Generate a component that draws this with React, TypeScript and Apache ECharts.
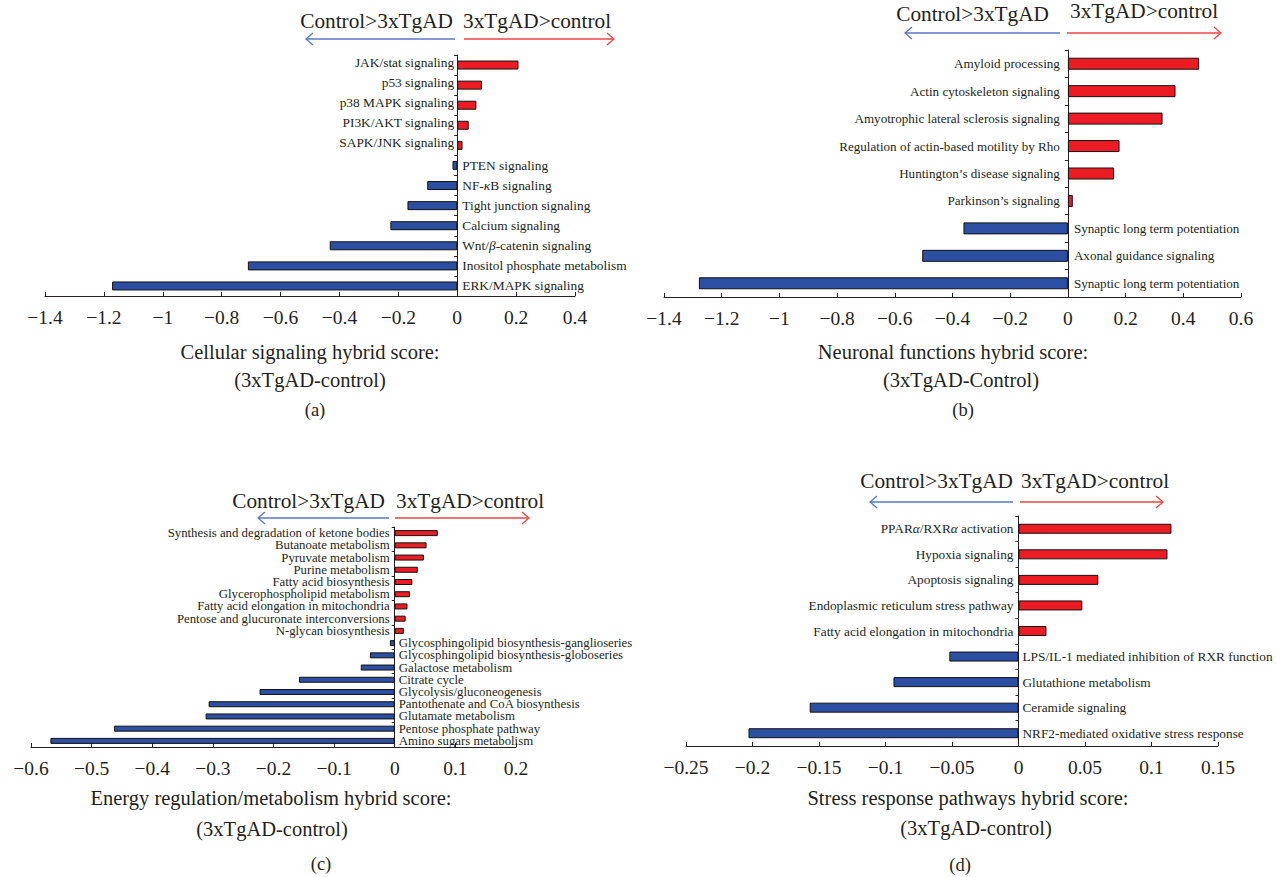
import React, { useEffect, useRef } from "react";
import * as echarts from "echarts";

const FONT = '"Liberation Serif", "DejaVu Serif", "Times New Roman", serif';
const INK = "#231f20";
const RED = "#ed1c24";
const BLUE = "#2d4fa3";
const ARROW_BLUE = "#5877c2";
const ARROW_RED = "#ef4545";

// (a) Cellular signaling
const cellNames = [
  "JAK/stat signaling",
  "p53 signaling",
  "p38 MAPK signaling",
  "PI3K/AKT signaling",
  "SAPK/JNK signaling",
  "PTEN signaling",
  "NF-κB signaling",
  "Tight junction signaling",
  "Calcium signaling",
  "Wnt/β-catenin signaling",
  "Inositol phosphate metabolism",
  "ERK/MAPK signaling",
];
const cellScores = [0.208, 0.084, 0.065, 0.039, 0.018, -0.016, -0.102, -0.169, -0.227, -0.433, -0.711, -1.172];

// (b) Neuronal functions
const neuroNames = [
  "Amyloid processing",
  "Actin cytoskeleton signaling",
  "Amyotrophic lateral sclerosis signaling",
  "Regulation of actin-based motility by Rho",
  "Huntington’s disease signaling",
  "Parkinson’s signaling",
  "Synaptic long term potentiation",
  "Axonal guidance signaling",
  "Synaptic long term potentiation",
];
const neuroScores = [0.455, 0.373, 0.328, 0.179, 0.16, 0.017, -0.362, -0.505, -1.279];

// (c) Energy regulation / metabolism
const energyNames = [
  "Synthesis and degradation of ketone bodies",
  "Butanoate metabolism",
  "Pyruvate metabolism",
  "Purine metabolism",
  "Fatty acid biosynthesis",
  "Glycerophospholipid metabolism",
  "Fatty acid elongation in mitochondria",
  "Pentose and glucuronate interconversions",
  "N-glycan biosynthesis",
  "Glycosphingolipid biosynthesis-ganglioseries",
  "Glycosphingolipid biosynthesis-globoseries",
  "Galactose metabolism",
  "Citrate cycle",
  "Glycolysis/gluconeogenesis",
  "Pantothenate and CoA biosynthesis",
  "Glutamate metabolism",
  "Pentose phosphate pathway",
  "Amino sugars metabolism",
];
const energyScores = [
  0.071, 0.0525, 0.048, 0.038, 0.029, 0.025, 0.021, 0.018, 0.015,
  -0.008, -0.041, -0.056, -0.158, -0.223, -0.307, -0.312, -0.463, -0.568,
];

// (d) Stress response pathways
const stressNames = [
  "PPARα/RXRα activation",
  "Hypoxia signaling",
  "Apoptosis signaling",
  "Endoplasmic reticulum stress pathway",
  "Fatty acid elongation in mitochondria",
  "LPS/IL-1 mediated inhibition of RXR function",
  "Glutathione metabolism",
  "Ceramide signaling",
  "NRF2-mediated oxidative stress response",
];
const stressScores = [0.115, 0.112, 0.06, 0.048, 0.021, -0.052, -0.094, -0.157, -0.203];

// x-axis ranges
const cellAxis = { min: -1.4, max: 0.4, interval: 0.2 };
const neuroAxis = { min: -1.4, max: 0.6, interval: 0.2 };
const energyAxis = { min: -0.6, max: 0.2, interval: 0.1 };
const stressAxis = { min: -0.25, max: 0.15, interval: 0.05 };

const panelTitles = [
  ["Cellular signaling hybrid score:", "(3xTgAD-control)", "(a)"],
  ["Neuronal functions hybrid score:", "(3xTgAD-Control)", "(b)"],
  ["Energy regulation/metabolism hybrid score:", "(3xTgAD-control)", "(c)"],
  ["Stress response pathways hybrid score:", "(3xTgAD-control)", "(d)"],
];
const leftHeader = "Control>3xTgAD";
const rightHeader = "3xTgAD>control";

type PanelLayout = {
  grid: { left: number; top: number; width: number; height: number };
  barWidth: number;
  labelSize: number;
  labelLine: number;
  gapPos: number;
  gapNeg: number;
  liftPos: number;
  header: { y: number; yRight: number; leftEnd: number; rightStart: number };
  arrow: { y: number; blueFrom: number; blueTo: number; redFrom: number; redTo: number };
  title: { x1: number; x2: number; x3: number; y1: number; y2: number; y3: number };
};

const layouts: PanelLayout[] = [
  {
    grid: { left: 45, top: 55, width: 530, height: 241 },
    barWidth: 9,
    labelSize: 13.4,
    labelLine: 15,
    gapPos: 3,
    gapNeg: 5,
    liftPos: -3,
    header: { y: 21, yRight: 21, leftEnd: 453, rightStart: 463 },
    arrow: { y: 39, blueFrom: 455, blueTo: 306, redFrom: 464, redTo: 614 },
    title: { x1: 310, x2: 310, x3: 315, y1: 352, y2: 380, y3: 410 },
  },
  {
    grid: { left: 664, top: 50, width: 577, height: 247 },
    barWidth: 12,
    labelSize: 13.1,
    labelLine: 15,
    gapPos: 8,
    gapNeg: 6,
    liftPos: 0,
    header: { y: 14, yRight: 11, leftEnd: 1049, rightStart: 1070 },
    arrow: { y: 33, blueFrom: 1060, blueTo: 905, redFrom: 1067, redTo: 1221 },
    title: { x1: 953, x2: 961, x3: 963, y1: 352, y2: 380, y3: 410 },
  },
  {
    grid: { left: 31, top: 527, width: 485, height: 220 },
    barWidth: 6,
    labelSize: 12.8,
    labelLine: 11.5,
    gapPos: 5,
    gapNeg: 4,
    liftPos: 0,
    header: { y: 501, yRight: 501, leftEnd: 385, rightStart: 396 },
    arrow: { y: 518, blueFrom: 389, blueTo: 258, redFrom: 395, redTo: 529 },
    title: { x1: 271, x2: 272, x3: 321, y1: 798, y2: 829, y3: 864 },
  },
  {
    grid: { left: 686, top: 516, width: 532, height: 230 },
    barWidth: 10,
    labelSize: 13.3,
    labelLine: 15,
    gapPos: 5,
    gapNeg: 4,
    liftPos: 0,
    header: { y: 481, yRight: 481, leftEnd: 1013, rightStart: 1021 },
    arrow: { y: 502, blueFrom: 1013, blueTo: 870, redFrom: 1020, redTo: 1163 },
    title: { x1: 968, x2: 976, x3: 960, y1: 798, y2: 828, y3: 865 },
  },
];

const panels = [
  { names: cellNames, scores: cellScores, axis: cellAxis },
  { names: neuroNames, scores: neuroScores, axis: neuroAxis },
  { names: energyNames, scores: energyScores, axis: energyAxis },
  { names: stressNames, scores: stressScores, axis: stressAxis },
];

const tickText = (v: number) => {
  const s = String(parseFloat(v.toFixed(3)));
  return s.replace("-", "\u2212");
};

const italicGreek = (name: string) => name.replace(/([α-ωΑ-Ω])/g, "{i|$1}");

function buildOption() {
  const grid: any[] = [];
  const xAxis: any[] = [];
  const yAxis: any[] = [];
  const series: any[] = [];
  const graphic: any[] = [];

  const text = (t: string, x: number, y: number, size: number, align: string, color = INK) => ({
    type: "text",
    x,
    y,
    silent: true,
    style: {
      text: t,
      fill: color,
      fontFamily: FONT,
      fontSize: size,
      align,
      verticalAlign: "middle",
    },
  });

  panels.forEach((p, i) => {
    const L = layouts[i];
    grid.push({ ...L.grid, containLabel: false });
    xAxis.push({
      type: "value",
      gridIndex: i,
      min: p.axis.min,
      max: p.axis.max,
      interval: p.axis.interval,
      axisLine: { show: true, lineStyle: { color: INK, width: 1 } },
      axisTick: { show: true, inside: true, length: 4, lineStyle: { color: INK } },
      axisLabel: {
        fontFamily: FONT,
        fontSize: 19.5,
        color: INK,
        margin: 11,
        formatter: tickText,
      },
      splitLine: { show: false },
    });
    yAxis.push({
      type: "category",
      gridIndex: i,
      inverse: true,
      data: p.names,
      axisLine: { show: true, onZero: true, lineStyle: { color: INK, width: 1 } },
      axisTick: { show: true, length: 3, lineStyle: { color: INK } },
      axisLabel: { show: false },
      splitLine: { show: false },
    });
    series.push({
      type: "bar",
      xAxisIndex: i,
      yAxisIndex: i,
      barWidth: L.barWidth,
      data: p.scores.map((v) => ({
        value: v,
        itemStyle: { color: v >= 0 ? RED : BLUE },
        label: {
          position: v >= 0 ? "left" : "right",
          distance: v >= 0 ? L.gapPos : L.gapNeg,
          offset: [0, v >= 0 ? L.liftPos : 0],
        },
      })),
      itemStyle: { borderColor: "#111", borderWidth: 1 },
      label: {
        show: true,
        color: INK,
        fontFamily: FONT,
        fontSize: L.labelSize,
        lineHeight: L.labelLine,
        formatter: (prm: any) => italicGreek(p.names[prm.dataIndex]),
        rich: {
          i: {
            fontStyle: "italic",
            fontFamily: FONT,
            fontSize: L.labelSize,
            lineHeight: L.labelLine,
            color: INK,
          },
        },
      },
    });

    // direction header
    graphic.push(text(leftHeader, L.header.leftEnd, L.header.y, 21.3, "right"));
    graphic.push(text(rightHeader, L.header.rightStart, L.header.yRight, 21.3, "left"));
    const a = L.arrow;
    graphic.push({
      type: "line",
      silent: true,
      shape: { x1: a.blueFrom, y1: a.y, x2: a.blueTo, y2: a.y },
      style: { stroke: ARROW_BLUE, lineWidth: 1.3 },
    });
    graphic.push({
      type: "polyline",
      silent: true,
      shape: { points: [[a.blueTo + 7, a.y - 6], [a.blueTo, a.y], [a.blueTo + 7, a.y + 6]] },
      style: { stroke: ARROW_BLUE, lineWidth: 1.3, fill: "none" },
    });
    graphic.push({
      type: "line",
      silent: true,
      shape: { x1: a.redFrom, y1: a.y, x2: a.redTo, y2: a.y },
      style: { stroke: ARROW_RED, lineWidth: 1.3 },
    });
    graphic.push({
      type: "polyline",
      silent: true,
      shape: { points: [[a.redTo - 7, a.y - 6], [a.redTo, a.y], [a.redTo - 7, a.y + 6]] },
      style: { stroke: ARROW_RED, lineWidth: 1.3, fill: "none" },
    });

    // axis title and panel letter
    const T = L.title;
    const [t1, t2, t3] = panelTitles[i];
    graphic.push(text(t1, T.x1, T.y1, 20.5, "center"));
    graphic.push(text(t2, T.x2, T.y2, 20.5, "center"));
    graphic.push(text(t3, T.x3, T.y3, 18.5, "center"));
  });

  return {
    animation: false,
    backgroundColor: "#ffffff",
    textStyle: { fontFamily: FONT },
    grid,
    xAxis,
    yAxis,
    series,
    graphic: { elements: graphic },
  };
}

export default function App() {
  const ref = useRef<HTMLDivElement>(null);
  useEffect(() => {
    if (!ref.current) return;
    const chart = echarts.init(ref.current, undefined, { renderer: "svg" });
    chart.setOption(buildOption() as any);
    return () => chart.dispose();
  }, []);
  return (
    <div
      ref={ref}
      style={{ position: "absolute", left: 0, top: 0, width: 1276, height: 877, background: "#fff" }}
    />
  );
}
